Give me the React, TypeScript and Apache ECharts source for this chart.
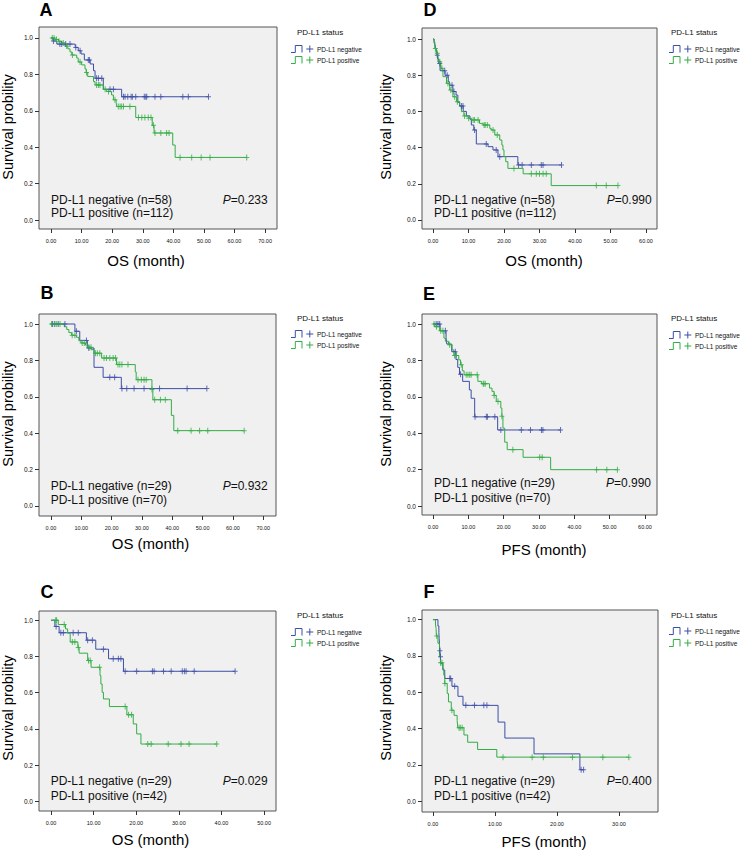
import React, { useEffect, useRef } from 'react';
import * as echarts from 'echarts';

// ---------- Data (times in months, survival probability after each event) ----------
// Panel A (OS, n=58 vs n=112)
const aNegT = [0.6, 1.9, 7.9, 8.9, 9.8, 10.9, 12.8, 13.9, 14.4, 17.1, 23.1];
const aNegS = [0.983, 0.966, 0.948, 0.93, 0.912, 0.879, 0.857, 0.82, 0.778, 0.718, 0.677];
const aNegC = [0.8, 2.9, 3.5, 4.8, 6.2, 8.1, 9.5, 12.2, 12.6, 14.9, 15.5, 16.6, 19.3, 20.4, 23.7, 24.2, 25.1, 26.2, 26.6, 27.7, 30.5, 31.0, 31.3, 34.0, 35.9, 43.1, 44.9, 51.5];
const aPosT = [1.3, 2.5, 3.5, 4.6, 5.5, 6.2, 6.8, 8.4, 8.9, 10.0, 11.1, 11.5, 12.0, 13.9, 14.4, 17.1, 18.2, 19.8, 20.4, 21.3, 21.5, 27.7, 33.1, 33.7, 39.8, 40.6];
const aPosS = [0.991, 0.982, 0.972, 0.956, 0.94, 0.923, 0.906, 0.89, 0.868, 0.852, 0.83, 0.81, 0.788, 0.76, 0.742, 0.718, 0.706, 0.687, 0.66, 0.644, 0.624, 0.563, 0.52, 0.478, 0.412, 0.344];
const aPosC = [0.4, 1.0, 1.8, 2.6, 4.0, 5.1, 7.0, 9.5, 11.6, 14.9, 15.5, 16.0, 17.7, 18.8, 20.9, 22.0, 22.6, 23.1, 23.7, 25.8, 28.6, 29.7, 30.7, 31.8, 32.7, 33.5, 34.0, 35.9, 37.8, 38.6, 42.2, 46.0, 49.1, 52.0, 64.0];

// Panel B (OS, n=29 vs n=70)
const bNegT = [7.9, 9.5, 12.0, 14.2, 17.2, 23.2];
const bNegS = [0.96, 0.91, 0.868, 0.762, 0.707, 0.645];
const bNegC = [0.5, 1.3, 2.4, 4.6, 8.4, 11.7, 12.5, 19.4, 21.0, 23.4, 25.0, 27.4, 30.7, 35.8, 44.9, 51.4];
const bPosT = [4.4, 5.2, 5.9, 6.8, 8.4, 9.2, 9.9, 11.4, 12.1, 13.4, 14.2, 16.7, 21.6, 27.8, 28.1, 33.3, 33.6, 39.7, 40.5];
const bPosS = [0.985, 0.97, 0.953, 0.938, 0.927, 0.908, 0.896, 0.884, 0.872, 0.859, 0.84, 0.813, 0.777, 0.737, 0.694, 0.64, 0.584, 0.498, 0.414];
const bPosC = [0.2, 1.1, 1.9, 3.0, 7.0, 7.9, 10.3, 11.0, 12.5, 13.2, 14.7, 15.3, 16.1, 17.5, 18.3, 19.4, 20.5, 21.3, 22.1, 22.7, 23.4, 25.4, 28.7, 29.8, 30.7, 31.4, 33.3, 34.2, 36.1, 37.7, 41.8, 46.2, 49.0, 51.7, 63.7];

// Panel C (OS, n=29 vs n=42)
const cNegT = [0.9, 1.9, 8.3, 10.5, 13.5, 17.0];
const cNegS = [0.966, 0.931, 0.89, 0.84, 0.787, 0.718];
const cNegC = [1.2, 2.3, 2.9, 5.2, 6.4, 8.6, 9.7, 12.3, 14.6, 15.8, 16.4, 17.4, 20.1, 23.8, 24.2, 26.4, 28.2, 30.8, 31.3, 31.7, 33.6, 43.2];
const cPosT = [1.7, 3.4, 3.9, 4.5, 6.3, 6.6, 8.6, 9.4, 11.5, 11.7, 12.0, 12.3, 13.7, 17.8, 19.3, 20.1, 21.1];
const cPosS = [0.976, 0.952, 0.928, 0.88, 0.85, 0.818, 0.777, 0.74, 0.694, 0.648, 0.602, 0.565, 0.523, 0.478, 0.427, 0.372, 0.316];
const cPosC = [1.1, 1.3, 3.1, 5.0, 5.6, 6.4, 8.8, 9.2, 11.4, 17.4, 18.2, 18.9, 22.7, 23.5, 27.5, 30.5, 32.4, 38.9];

// Panel D (OS, n=58 vs n=112)
const dNegT = [0.3, 0.5, 0.7, 0.9, 1.1, 1.3, 1.6, 2.0, 3.4, 4.3, 4.6, 5.6, 6.5, 7.0, 7.5, 8.5, 9.4, 10.4, 10.8, 11.5, 12.2, 15.5, 16.9, 18.3, 23.9];
const dNegS = [0.983, 0.965, 0.948, 0.93, 0.91, 0.89, 0.865, 0.825, 0.8, 0.765, 0.745, 0.71, 0.69, 0.65, 0.63, 0.6, 0.575, 0.557, 0.525, 0.497, 0.42, 0.405, 0.387, 0.35, 0.304];
const dNegC = [1.2, 1.9, 3.3, 4.0, 5.35, 5.9, 8.0, 8.45, 11.7, 15.0, 17.8, 18.8, 24.1, 25.1, 27.7, 30.5, 31.0, 36.2];
const dPosT = [0.3, 0.5, 0.9, 1.4, 2.2, 2.8, 3.8, 4.7, 5.6, 6.6, 7.5, 8.0, 8.7, 9.9, 10.8, 13.1, 14.1, 16.0, 16.4, 17.4, 18.8, 19.4, 19.7, 20.0, 20.5, 21.1, 25.4, 33.3];
const dPosS = [0.976, 0.948, 0.921, 0.875, 0.838, 0.792, 0.755, 0.718, 0.681, 0.654, 0.63, 0.599, 0.575, 0.562, 0.553, 0.534, 0.525, 0.506, 0.497, 0.47, 0.442, 0.414, 0.387, 0.35, 0.322, 0.285, 0.255, 0.19];
const dPosC = [0.66, 1.2, 1.9, 2.5, 4.2, 5.0, 6.1, 6.85, 8.9, 10.05, 11.3, 11.7, 12.7, 14.4, 14.7, 15.3, 16.9, 18.1, 22.8, 27.7, 29.1, 30.0, 31.0, 31.9, 46.0, 48.8, 52.1];

// Panel E (PFS, n=29 vs n=70)
const eNegT = [2.0, 3.7, 3.9, 5.3, 6.5, 7.0, 7.5, 8.4, 10.3, 10.8, 11.8, 18.3];
const eNegS = [0.963, 0.926, 0.89, 0.848, 0.805, 0.762, 0.724, 0.685, 0.638, 0.592, 0.49, 0.418];
const eNegC = [0.9, 1.4, 1.9, 3.5, 6.3, 7.8, 11.9, 15.1, 15.4, 17.5, 19.2, 25.0, 27.6, 30.7, 31.1, 36.1];
const ePosT = [0.5, 1.9, 3.1, 3.5, 4.4, 5.4, 5.9, 7.3, 7.8, 8.3, 8.8, 12.7, 13.7, 16.0, 16.7, 17.3, 17.9, 19.2, 19.5, 19.8, 20.3, 21.0, 25.5, 33.3];
const ePosS = [0.985, 0.963, 0.923, 0.905, 0.886, 0.858, 0.827, 0.803, 0.776, 0.743, 0.721, 0.685, 0.672, 0.648, 0.63, 0.608, 0.575, 0.538, 0.493, 0.428, 0.351, 0.31, 0.268, 0.2];
const ePosC = [0.3, 1.0, 2.2, 2.8, 4.7, 6.1, 6.6, 8.0, 9.4, 9.9, 10.4, 10.8, 12.5, 14.2, 14.4, 14.8, 17.3, 18.4, 19.5, 22.6, 30.2, 30.9, 46.3, 49.2, 52.2];

// Panel F (PFS, n=29 vs n=42)
const fNegT = [0.8, 0.95, 1.0, 1.05, 1.1, 1.2, 1.25, 1.6, 1.9, 3.06, 4.03, 4.84, 10.5, 11.6, 16.3, 23.7];
const fNegS = [0.965, 0.93, 0.896, 0.862, 0.828, 0.795, 0.759, 0.722, 0.676, 0.633, 0.578, 0.528, 0.436, 0.348, 0.261, 0.174];
const fNegC = [1.12, 1.22, 2.7, 2.85, 3.5, 5.3, 6.7, 8.2, 8.7, 23.9, 24.3];
const fPosT = [0.4, 0.5, 0.55, 0.8, 1.05, 1.2, 1.6, 1.75, 1.9, 2.3, 2.5, 2.95, 3.4, 3.9, 4.0, 5.0, 5.6, 7.2, 10.3];
const fPosS = [0.976, 0.952, 0.91, 0.87, 0.795, 0.762, 0.73, 0.694, 0.648, 0.593, 0.547, 0.501, 0.473, 0.445, 0.405, 0.365, 0.325, 0.285, 0.243];
const fPosC = [0.6, 1.22, 1.45, 1.92, 3.05, 4.2, 4.4, 4.7, 11.3, 16.0, 17.8, 22.5, 27.4, 31.6];

// Labels / annotations
const panelLetters = ['A', 'B', 'C', 'D', 'E', 'F'];
const xTitles = ['OS (month)', 'OS (month)', 'OS (month)', 'OS (month)', 'PFS (month)', 'PFS (month)'];
const yTitles = ['Survival probility', 'Survival probility', 'Survival probility', 'Survival probility', 'Survival probility', 'Survival probility'];
const nNegative = [58, 29, 29, 58, 29, 29];
const nPositive = [112, 70, 42, 112, 70, 42];
const pValues = ['0.233', '0.932', '0.029', '0.990', '0.990', '0.400'];
const xTicks70 = [0, 10, 20, 30, 40, 50, 60, 70];
const xTicks60 = [0, 10, 20, 30, 40, 50, 60];
const xTicks50 = [0, 10, 20, 30, 40, 50];
const xTicks30 = [0, 10, 20, 30];
const yTicks = [0, 0.2, 0.4, 0.6, 0.8, 1.0];
const legendTitle = 'PD-L1 status';
const legendNames = ['PD-L1 negative', 'PD-L1 positive'];

// ---------- Layout (pixels) ----------
const FONT = '"Liberation Sans", Arial, Helvetica, sans-serif';
const BLUE = '#3d4ea6';
const GREEN = '#33ad45';
const PLUS = 'path://M2,0H3V6H2ZM0,2.5H5V3.5H0Z';

type Panel = {
  box: number[]; xr: number[]; yr: number[]; xt: number[];
  neg: number[][]; pos: number[][];
  letter: number[]; yTitle: number[]; xTitle: number[];
  leg: number[]; legY: number[]; ann: number[];
};

const panels: Panel[] = [
  { box: [39, 27, 277, 229], xr: [-3.93, 73.9], yr: [-0.049, 1.06], xt: xTicks70, neg: [aNegT, aNegS, aNegC], pos: [aPosT, aPosS, aPosC],
    letter: [46, 10], yTitle: [8, 127], xTitle: [146, 260], leg: [297, 291], legY: [32, 49, 60], ann: [51, 200, 213.3, 267.7] },
  { box: [39, 314, 276, 516], xr: [-3.94, 74.2], yr: [-0.055, 1.055], xt: xTicks70, neg: [bNegT, bNegS, bNegC], pos: [bPosT, bPosS, bPosC],
    letter: [47, 293], yTitle: [8, 414], xTitle: [150.5, 543], leg: [297, 291], legY: [318, 334, 345], ann: [50.7, 485.7, 500, 267.7] },
  { box: [39, 611, 276, 811], xr: [-2.82, 52.8], yr: [-0.054, 1.051], xt: xTicks50, neg: [cNegT, cNegS, cNegC], pos: [cPosT, cPosS, cPosC],
    letter: [47, 592], yTitle: [8, 708], xTitle: [150.5, 839], leg: [297, 291], legY: [615, 632, 643], ann: [50.7, 780.7, 796, 267.7] },
  { box: [422, 28, 657, 229], xr: [-3.1, 63.1], yr: [-0.05, 1.061], xt: xTicks60, neg: [dNegT, dNegS, dNegC], pos: [dPosT, dPosS, dPosC],
    letter: [430, 10], yTitle: [385.5, 127], xTitle: [544, 260], leg: [671, 669], legY: [32, 49, 60], ann: [434, 200, 213.3, 651.7] },
  { box: [422, 314, 657, 515], xr: [-3.11, 63.4], yr: [-0.049, 1.055], xt: xTicks60, neg: [eNegT, eNegS, eNegC], pos: [ePosT, ePosS, ePosC],
    letter: [429, 294], yTitle: [385.5, 414], xTitle: [544, 549], leg: [671, 669], legY: [318, 335, 346], ann: [434, 483.3, 498.3, 651] },
  { box: [422, 610, 658, 812], xr: [-1.77, 36.3], yr: [-0.059, 1.053], xt: xTicks30, neg: [fNegT, fNegS, fNegC], pos: [fPosT, fPosS, fPosC],
    letter: [429, 592], yTitle: [385.5, 708], xTitle: [544, 841], leg: [671, 669], legY: [615, 631, 643], ann: [434, 780.7, 796, 651.7] },
];

function survAt(T: number[], S: number[], t: number) {
  let s = 1;
  for (let i = 0; i < T.length; i++) if (T[i] <= t) s = S[i];
  return s;
}
function stepData(T: number[], S: number[], C: number[]) {
  const end = Math.max(T[T.length - 1], ...C);
  const d: number[][] = [[0, 1]];
  T.forEach((t, i) => d.push([t, S[i]]));
  d.push([end, S[S.length - 1]]);
  return d;
}

function buildOption() {
  const grid: any[] = [];
  const xAxis: any[] = [];
  const yAxis: any[] = [];
  const series: any[] = [];
  const graphic: any[] = [];

  panels.forEach((p, i) => {
    grid.push({
      left: p.box[0], top: p.box[1], width: p.box[2] - p.box[0], height: p.box[3] - p.box[1],
      show: true, backgroundColor: '#f0f0f0', borderColor: '#555', borderWidth: 1,
    });
    xAxis.push({
      type: 'value', gridIndex: i, min: p.xr[0], max: p.xr[1],
      axisLine: { show: false, onZero: false }, splitLine: { show: false },
      axisTick: { show: true, length: 4, customValues: p.xt, lineStyle: { color: '#333', width: 1 } },
      axisLabel: { customValues: p.xt, formatter: (v: number) => v.toFixed(2), fontSize: 5.5, margin: 9, color: '#111', fontFamily: FONT },
    });
    yAxis.push({
      type: 'value', gridIndex: i, min: p.yr[0], max: p.yr[1],
      axisLine: { show: false, onZero: false }, splitLine: { show: false },
      axisTick: { show: true, length: 4, customValues: yTicks, lineStyle: { color: '#333', width: 1 } },
      axisLabel: { customValues: yTicks, formatter: (v: number) => v.toFixed(1), fontSize: 6.5, margin: 6, color: '#111', fontFamily: FONT },
    });
    const groups: [number[][], string][] = [[p.neg, BLUE], [p.pos, GREEN]];
    groups.forEach(([g, color]) => {
      const [T, S, C] = g;
      series.push({
        type: 'line', xAxisIndex: i, yAxisIndex: i, step: 'end', data: stepData(T, S, C),
        symbol: 'none', showSymbol: false, silent: true, z: 3,
        lineStyle: { color, width: 1 },
      });
      series.push({
        type: 'scatter', xAxisIndex: i, yAxisIndex: i, data: C.map((t) => [t, survAt(T, S, t)]),
        symbol: PLUS, symbolSize: [5, 6], silent: true, z: 4, itemStyle: { color },
      });
    });

    // panel letter
    graphic.push({ type: 'text', x: p.letter[0], y: p.letter[1], style: { text: panelLetters[i], fontSize: 18, fontWeight: 'bold', fontFamily: FONT, fill: '#000', textAlign: 'center', textVerticalAlign: 'middle' } });
    // y title
    graphic.push({ type: 'text', x: p.yTitle[0], y: p.yTitle[1], rotation: Math.PI / 2, style: { text: yTitles[i], fontSize: 14.5, fontFamily: FONT, fill: '#000', textAlign: 'center', textVerticalAlign: 'middle' } });
    // x title
    graphic.push({ type: 'text', x: p.xTitle[0], y: p.xTitle[1], style: { text: xTitles[i], fontSize: 15, fontFamily: FONT, fill: '#000', textAlign: 'center', textVerticalAlign: 'middle' } });
    // annotations
    graphic.push({ type: 'text', x: p.ann[0], y: p.ann[1], z: 10, style: { text: `${legendNames[0]} (n=${nNegative[i]})`, fontSize: 12, fontFamily: FONT, fill: '#111', textAlign: 'left', textVerticalAlign: 'middle' } });
    graphic.push({ type: 'text', x: p.ann[0], y: p.ann[2], z: 10, style: { text: `${legendNames[1]} (n=${nPositive[i]})`, fontSize: 12, fontFamily: FONT, fill: '#111', textAlign: 'left', textVerticalAlign: 'middle' } });
    graphic.push({ type: 'text', x: p.ann[3], y: p.ann[1], z: 10, style: {
      text: `{i|P}{n|=${pValues[i]}}`, textAlign: 'right', textVerticalAlign: 'middle', fill: '#111',
      rich: { i: { fontStyle: 'italic', fontSize: 12, fontFamily: FONT, fill: '#111' }, n: { fontSize: 12, fontFamily: FONT, fill: '#111' } },
    } });
    // legend
    graphic.push({ type: 'text', x: p.leg[0], y: p.legY[0], style: { text: legendTitle, fontSize: 8, fontFamily: FONT, fill: '#111', textAlign: 'left', textVerticalAlign: 'middle' } });
    [BLUE, GREEN].forEach((color, k) => {
      const cy = p.legY[k + 1];
      const ix = p.leg[1];
      graphic.push({ type: 'polyline', shape: { points: [[ix, cy + 3.5], [ix + 4.3, cy + 3.5], [ix + 4.3, cy - 3.5], [ix + 11, cy - 3.5], [ix + 11, cy + 3.5]] }, style: { stroke: color, lineWidth: 1, fill: 'none' } });
      graphic.push({ type: 'line', shape: { x1: ix + 18.8, y1: cy - 3.5, x2: ix + 18.8, y2: cy + 3.5 }, style: { stroke: color, lineWidth: 1 } });
      graphic.push({ type: 'line', shape: { x1: ix + 15.3, y1: cy, x2: ix + 22.3, y2: cy }, style: { stroke: color, lineWidth: 1 } });
      graphic.push({ type: 'text', x: ix + 26, y: cy, style: { text: legendNames[k], fontSize: 6.5, fontFamily: FONT, fill: '#111', textAlign: 'left', textVerticalAlign: 'middle' } });
    });
  });

  return { animation: false, backgroundColor: '#fff', grid, xAxis, yAxis, series, graphic };
}

export default function App() {
  const ref = useRef<HTMLDivElement>(null);
  useEffect(() => {
    if (!ref.current) return;
    const chart = echarts.init(ref.current, null, { renderer: 'svg' });
    chart.setOption(buildOption() as any);
    return () => chart.dispose();
  }, []);
  return <div ref={ref} style={{ position: 'absolute', left: 0, top: 0, width: 741, height: 850, background: '#fff' }} />;
}
